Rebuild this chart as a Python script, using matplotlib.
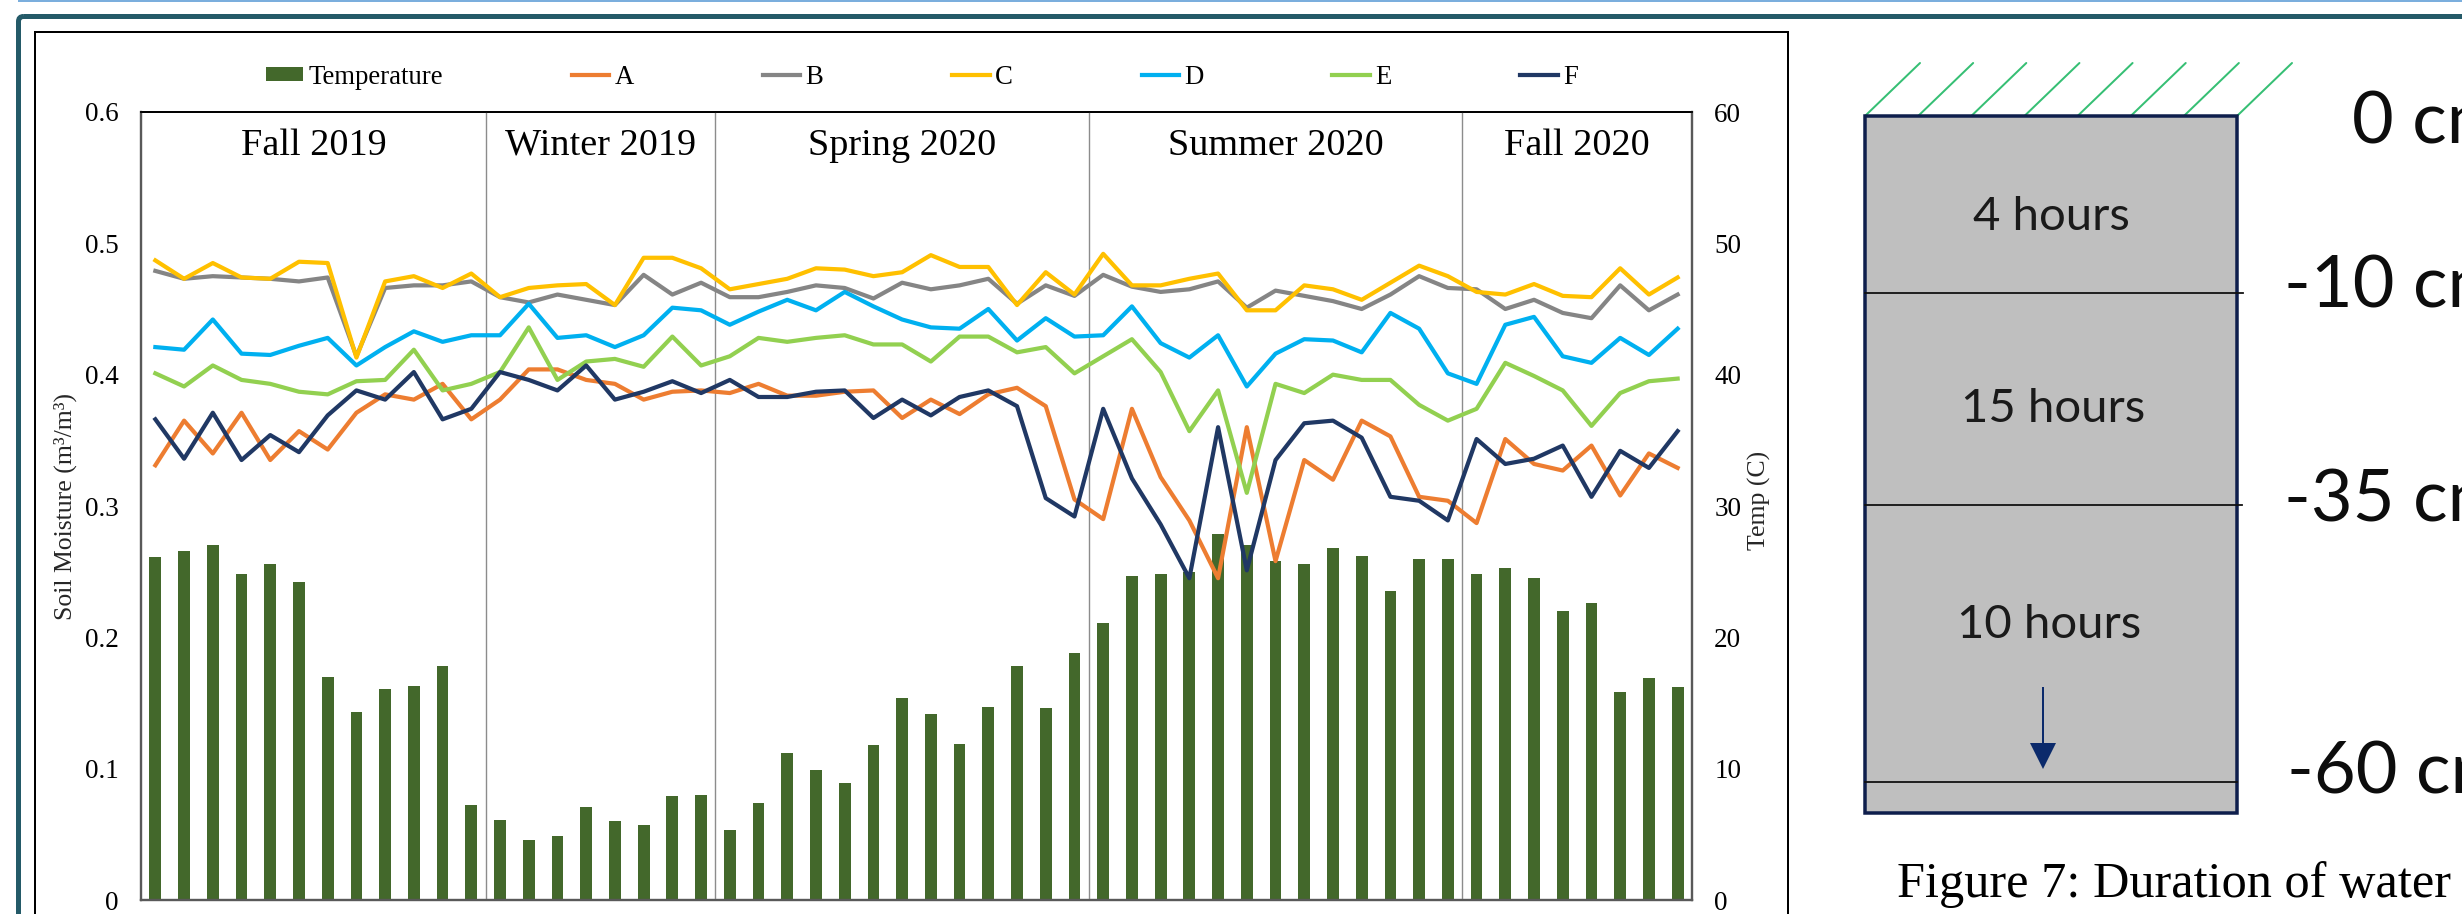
import numpy as np
import matplotlib
matplotlib.use("Agg")
import matplotlib.pyplot as plt
from matplotlib.patches import Rectangle, FancyBboxPatch, Polygon, Patch
from matplotlib.lines import Line2D

# ---------------------------------------------------------------- data
temperature = [26.1, 26.6, 27.0, 24.8, 25.6, 24.2, 17.0, 14.3, 16.1, 16.3,
               17.8, 7.2, 6.1, 4.6, 4.9, 7.1, 6.0, 5.7, 7.9, 8.0,
               5.3, 7.4, 11.2, 9.9, 8.9, 11.8, 15.4, 14.2, 11.9, 14.7,
               17.8, 14.6, 18.8, 21.1, 24.7, 24.8, 25.0, 27.9, 27.0, 25.8,
               25.6, 26.8, 26.2, 23.5, 26.0, 26.0, 24.8, 25.3, 24.5, 22.0,
               22.6, 15.8, 16.9, 16.2]

series_a = [0.331, 0.365, 0.340, 0.371, 0.335, 0.357, 0.343, 0.371, 0.385, 0.381,
            0.393, 0.366, 0.381, 0.404, 0.404, 0.396, 0.393, 0.381, 0.387, 0.388,
            0.386, 0.393, 0.384, 0.384, 0.387, 0.388, 0.367, 0.381, 0.370, 0.385,
            0.390, 0.376, 0.305, 0.290, 0.374, 0.322, 0.289, 0.245, 0.360, 0.258,
            0.335, 0.320, 0.365, 0.353, 0.307, 0.304, 0.287, 0.351, 0.332, 0.327,
            0.346, 0.308, 0.340, 0.329]
series_b = [0.479, 0.473, 0.475, 0.474, 0.473, 0.471, 0.474, 0.414, 0.466, 0.468,
            0.468, 0.471, 0.459, 0.455, 0.461, 0.457, 0.453, 0.476, 0.461, 0.470,
            0.459, 0.459, 0.463, 0.468, 0.466, 0.458, 0.470, 0.465, 0.468, 0.473,
            0.454, 0.468, 0.460, 0.476, 0.467, 0.463, 0.465, 0.471, 0.451, 0.464,
            0.460, 0.456, 0.450, 0.461, 0.475, 0.466, 0.465, 0.450, 0.457, 0.447,
            0.443, 0.468, 0.449, 0.461]
series_c = [0.487, 0.473, 0.485, 0.474, 0.473, 0.486, 0.485, 0.413, 0.471, 0.475,
            0.466, 0.477, 0.459, 0.466, 0.468, 0.469, 0.453, 0.489, 0.489, 0.481,
            0.465, 0.469, 0.473, 0.481, 0.480, 0.475, 0.478, 0.491, 0.482, 0.482,
            0.453, 0.478, 0.461, 0.492, 0.468, 0.468, 0.473, 0.477, 0.449, 0.449,
            0.468, 0.465, 0.457, 0.470, 0.483, 0.475, 0.463, 0.461, 0.469, 0.460,
            0.459, 0.481, 0.461, 0.474]
series_d = [0.421, 0.419, 0.442, 0.416, 0.415, 0.422, 0.428, 0.407, 0.421, 0.433,
            0.425, 0.430, 0.430, 0.454, 0.428, 0.430, 0.421, 0.430, 0.451, 0.449,
            0.438, 0.448, 0.457, 0.449, 0.463, 0.452, 0.442, 0.436, 0.435, 0.450,
            0.426, 0.443, 0.429, 0.430, 0.452, 0.424, 0.413, 0.430, 0.391, 0.416,
            0.427, 0.426, 0.417, 0.447, 0.435, 0.401, 0.393, 0.438, 0.444, 0.414,
            0.409, 0.428, 0.415, 0.435]
series_e = [0.401, 0.391, 0.407, 0.396, 0.393, 0.387, 0.385, 0.395, 0.396, 0.419,
            0.388, 0.393, 0.402, 0.436, 0.396, 0.410, 0.412, 0.406, 0.429, 0.407,
            0.414, 0.428, 0.425, 0.428, 0.430, 0.423, 0.423, 0.410, 0.429, 0.429,
            0.417, 0.421, 0.401, 0.414, 0.427, 0.402, 0.357, 0.388, 0.310, 0.393,
            0.386, 0.400, 0.396, 0.396, 0.377, 0.365, 0.374, 0.409, 0.399, 0.388,
            0.361, 0.386, 0.395, 0.397]
series_f = [0.366, 0.336, 0.371, 0.335, 0.354, 0.341, 0.369, 0.388, 0.381, 0.402,
            0.366, 0.374, 0.402, 0.396, 0.388, 0.407, 0.381, 0.387, 0.395, 0.386,
            0.396, 0.383, 0.383, 0.387, 0.388, 0.367, 0.381, 0.369, 0.383, 0.388,
            0.376, 0.306, 0.292, 0.374, 0.321, 0.286, 0.245, 0.360, 0.251, 0.335,
            0.363, 0.365, 0.352, 0.307, 0.304, 0.289, 0.351, 0.332, 0.336, 0.346,
            0.307, 0.342, 0.329, 0.357]

series_names = ["A", "B", "C", "D", "E", "F"]
series_values = [series_a, series_b, series_c, series_d, series_e, series_f]
series_colors = ["#ED7D31", "#858585", "#FFC000", "#00B0F0", "#92D050", "#203864"]

seasons = ["Fall 2019", "Winter 2019", "Spring 2020", "Summer 2020", "Fall 2020"]
season_lengths = [12, 8, 13, 13, 8]

moisture_ticks = [0, 0.1, 0.2, 0.3, 0.4, 0.5, 0.6]
moisture_ticklabels = ["0", "0.1", "0.2", "0.3", "0.4", "0.5", "0.6"]
temp_ticks = [0, 10, 20, 30, 40, 50, 60]

layer_hours = ["4 hours", "15 hours", "10 hours"]
depth_labels = ["0 cm", "-10 cm", "-35 cm", "-60 cm"]
caption = "Figure 7: Duration of water"

# ---------------------------------------------------------------- figure
W, H, DPI = 2462, 914, 100
SERIF = ["Liberation Serif", "DejaVu Serif"]
SANS = ["Lato", "DejaVu Sans"]

fig = plt.figure(figsize=(W / DPI, H / DPI), dpi=DPI)
fig.patch.set_facecolor("white")

# pixel-space overlay for frames and the soil-column sketch
ov = fig.add_axes([0, 0, 1, 1], zorder=0)
ov.set_xlim(0, W)
ov.set_ylim(H, 0)
ov.axis("off")

px = 72.0 / DPI  # points per pixel

# page frames
ov.plot([18, W], [0.8, 0.8], color="#5B9BD5", lw=1.6 * px, solid_capstyle="butt")
ov.add_patch(FancyBboxPatch((18.5, 16.5), W + 40, H + 40,
                            boxstyle="round,pad=0,rounding_size=5",
                            fc="none", ec="#245A68", lw=5 * px))
ov.add_patch(Rectangle((35, 32), 1788 - 35, H + 40, fc="white", ec="black",
                       lw=2 * px, zorder=0.5))

# ---------------------------------------------------------------- chart
L, R, T, B = 141, 1692, 112, 900
ax_bar = fig.add_axes([L / W, 1 - B / H, (R - L) / W, (B - T) / H], zorder=2)
ax_line = ax_bar.twinx()

n = len(temperature)
x = np.arange(n) + 0.5

ax_bar.bar(x, temperature, width=0.41, color="#43682B", zorder=2)
ax_bar.set_ylim(0, 60)
ax_bar.set_xlim(0, n)
ax_bar.set_yticks(temp_ticks)
ax_bar.set_yticklabels([str(t) for t in temp_ticks])
ax_bar.yaxis.tick_right()
ax_bar.set_xticks([])

for name, vals, col in zip(series_names, series_values, series_colors):
    ax_line.plot(x, vals, color=col, lw=4.2 * px, solid_joinstyle="round")
ax_line.set_ylim(0, 0.6)
ax_line.set_xlim(0, n)
ax_line.set_yticks(moisture_ticks)
ax_line.set_yticklabels(moisture_ticklabels)
ax_line.yaxis.tick_left()
ax_line.set_xticks([])

for a in (ax_bar, ax_line):
    a.tick_params(axis="y", length=0, pad=16, labelsize=19.5)
    for lab in a.get_yticklabels():
        lab.set_fontfamily(SERIF)
    for side in ("left", "right", "bottom"):
        a.spines[side].set_color("#595959")
        a.spines[side].set_linewidth(2.2 * px)
    a.spines["top"].set_color("black")
    a.spines["top"].set_linewidth(1.8 * px)

# season dividers and titles
bounds = np.cumsum([0] + season_lengths)
for b in bounds[1:-1]:
    ax_line.axvline(b, color="#8C8C8C", lw=1.4 * px, zorder=1)
for s, lo, hi in zip(seasons, bounds[:-1], bounds[1:]):
    ax_line.text((lo + hi) / 2, (B - 155) / (B - T) * 0.6, s, ha="center",
                 va="baseline", fontsize=27.5, family=SERIF, color="black")

# axis titles
ov.text(65, 506, "Soil Moisture (m³/m³)", rotation=90, ha="center", va="center",
        fontsize=18.5, family=SERIF, color="#262626")
ov.text(1759, 500, "Temp (C)", rotation=90, ha="center", va="center",
        fontsize=18.5, family=SERIF, color="#262626")

# legend
handles = [Patch(facecolor="#43682B", edgecolor="none")]
handles += [Line2D([], [], color=c, lw=4.2 * px) for c in series_colors]
labels = ["Temperature"] + series_names
fig.legend(handles, labels, loc="center", ncol=7, frameon=False,
           bbox_to_anchor=(922 / W, 1 - 77 / H),
           prop={"family": SERIF, "size": 19.3},
           handlelength=1.4, handleheight=0.45, handletextpad=0.2,
           columnspacing=4.8)

# ---------------------------------------------------------------- soil column
bx0, bx1, by0, by1 = 1865, 2237, 116, 813
layer_y = [293, 505, 782]
layer_end = [2243, 2242, 2237]

# surface hatching
n_hatch = 8
for k in range(n_hatch):
    hx = bx0 + k * (bx1 - bx0) / (n_hatch - 1)
    ov.plot([hx, hx + 55], [by0, by0 - 53], color="#36BF74", lw=2 * px,
            solid_capstyle="round", zorder=2)

ov.add_patch(Rectangle((bx0, by0), bx1 - bx0, by1 - by0, fc="#BFBFBF",
                       ec="#0E1E4C", lw=3.5 * px, zorder=3))
for ly, le in zip(layer_y, layer_end):
    ov.plot([bx0, le], [ly, ly], color="#111111", lw=1.8 * px, zorder=4)

hour_xy = [(2051, 230), (2053, 422), (2049, 638)]
for txt, (hx, hy) in zip(layer_hours, hour_xy):
    ov.text(hx, hy, txt, ha="center", va="baseline", fontsize=34,
            family=SANS, color="#1A1A1A", zorder=5)

# infiltration arrow
ov.plot([2043, 2043], [688, 748], color="#0B2A6B", lw=2 * px, zorder=5)
ov.add_patch(Polygon([(2030, 743), (2056, 743), (2043, 769)], closed=True,
                     fc="#0B2A6B", ec="none", zorder=5))

depth_xy = [(2352, 143), (2284, 307), (2284, 522), (2287, 793)]
for txt, (dx, dy) in zip(depth_labels, depth_xy):
    ov.text(dx, dy, txt, ha="left", va="baseline", fontsize=52,
            family=SANS, color="#0D0D0D", zorder=5)

ov.text(1897, 897, caption, ha="left", va="baseline", fontsize=36.3,
        family=SERIF, color="black", zorder=5)

fig.savefig("out.png", dpi=DPI, facecolor="white")
